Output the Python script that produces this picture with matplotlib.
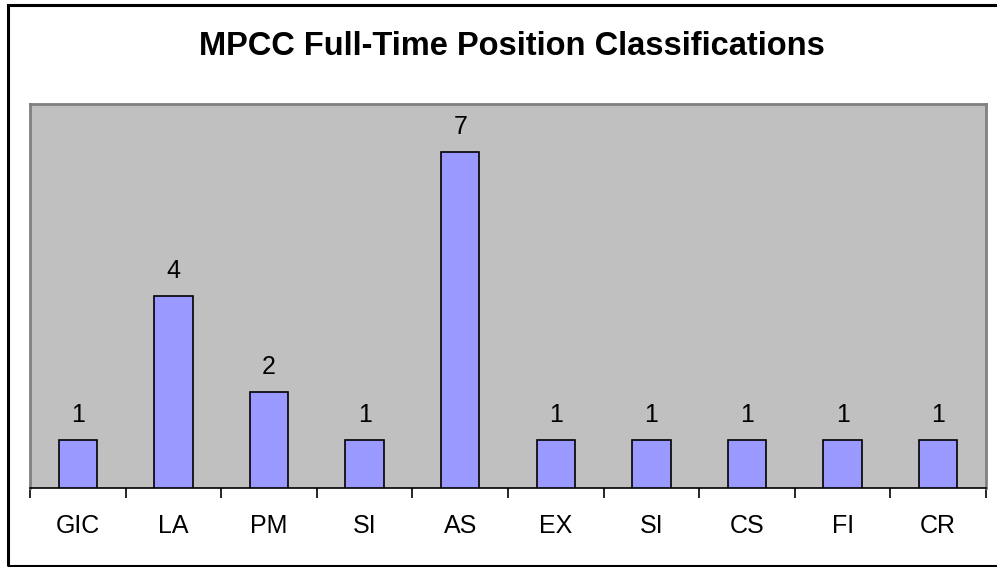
import matplotlib.pyplot as plt
import numpy as np
from matplotlib.patches import Rectangle

categorias = ["GIC", "LA", "PM", "SI", "AS", "EX", "SI", "CS", "FI", "CR"]
valores = [1, 4, 2, 1, 7, 1, 1, 1, 1, 1]

plt.rcParams['font.family'] = ['Liberation Sans', 'DejaVu Sans']

W, H = 997, 567
fig = plt.figure(figsize=(W / 100, H / 100), dpi=100)

# marco exterior del gráfico
fig.patches.append(Rectangle((8 / W, 1 - 566 / H), 1.0, (566 - 5) / H,
                             transform=fig.transFigure, fill=False,
                             edgecolor='black', linewidth=2.2))

# área de trazado en píxeles: x 30-986, y 104-488
ax = fig.add_axes([30 / W, 1 - 488 / H, (986 - 30) / W, (488 - 104) / H])
ax.set_facecolor('#C0C0C0')

x = np.arange(len(categorias))
ax.bar(x, valores, width=0.4, color='#9999FF', edgecolor='black', linewidth=1.2, zorder=3)

for xi, v in zip(x, valores):
    ax.annotate(str(v), (xi, v), xytext=(0, 9), textcoords='offset points',
                ha='center', va='bottom', fontsize=18)

ax.set_xlim(-0.5, len(categorias) - 0.5)
ax.set_ylim(0, 8)
ax.set_yticks([])

ax.set_xticks(x)
ax.set_xticklabels(categorias, fontsize=18)
ax.tick_params(axis='x', which='major', length=0, pad=19)
ax.set_xticks(np.arange(-0.5, len(categorias)), minor=True)
ax.tick_params(axis='x', which='minor', length=7, width=1.2, direction='out', color='black')

for lado in ['top', 'left', 'right']:
    ax.spines[lado].set_color('#808080')
    ax.spines[lado].set_linewidth(2)
ax.spines['bottom'].set_color('black')
ax.spines['bottom'].set_linewidth(1.2)

fig.text(511.5 / W, 1 - 46.5 / H, 'MPCC Full-Time Position Classifications',
         ha='center', va='center', fontsize=23.5, fontweight='bold')

fig.savefig('out.png', dpi=100)
